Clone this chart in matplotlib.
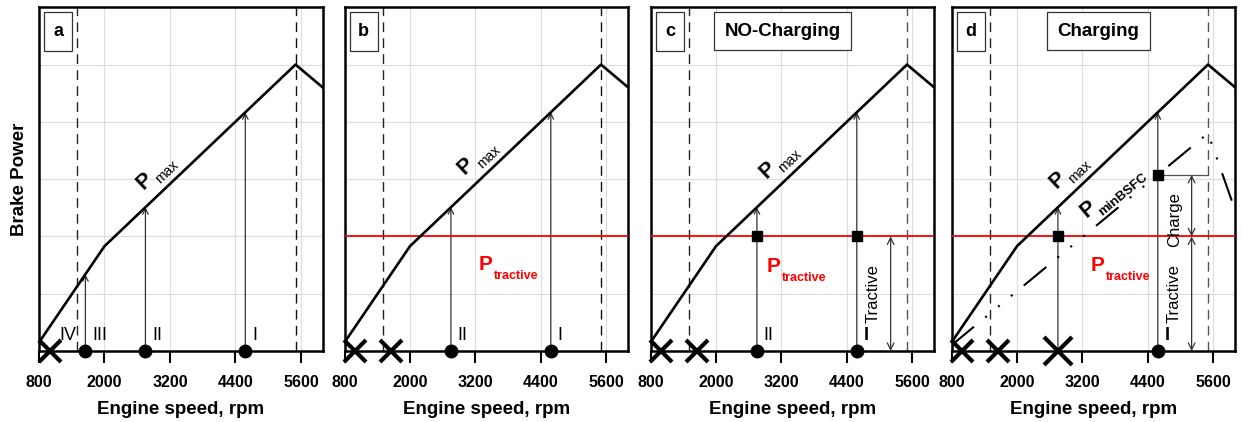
import numpy as np
import matplotlib
matplotlib.use('Agg')
import matplotlib.pyplot as plt
from matplotlib.patches import Rectangle

plt.rcParams['font.family'] = ['Liberation Sans', 'DejaVu Sans']

# ---------------- data ----------------
pmax_rpm = [800, 2000, 5500, 6000]
pmax_power = [0.15, 1.83, 5.0, 4.6]
bsfc_rpm = [800, 5500, 6000]
bsfc_power = [0.1, 3.8, 2.45]
p_tractive = 2.0
speed_limits = [1500, 5500]
gear_names = ['I', 'II', 'III', 'IV']
gear_rpm = [4580, 2750, 1650, 1000]
x_ticks = [800, 2000, 3200, 4400, 5600]
panel_letters = ['a', 'b', 'c', 'd']
panel_titles = [None, None, 'NO-Charging', 'Charging']
# which gears are feasible (circle) / infeasible (cross) per panel
feasible = [['I', 'II', 'III'], ['I', 'II'], ['I', 'II'], ['I']]
infeasible = [['IV'], ['III', 'IV'], ['III', 'IV'], ['II', 'III', 'IV']]
arrow_gears = [['I', 'II', 'III'], ['I', 'II'], ['I', 'II'], ['I', 'II']]
label_gears = [['I', 'II', 'III', 'IV'], ['I', 'II'], ['I', 'II'], ['I']]

# ---------------- layout ----------------
W, H = 1243, 422
fig = plt.figure(figsize=(W / 100, H / 100), dpi=100)
lefts_px = [39, 344.5, 650.5, 951.5]
width_px = 283.8
bottom_px, top_px = 351, 7.3

gear = dict(zip(gear_names, gear_rpm))


def pmax_at(x):
    return float(np.interp(x, pmax_rpm, pmax_power))


def bsfc_at(x):
    return float(np.interp(x, bsfc_rpm, bsfc_power))


def line_angle(ax, xs, ys):
    p = ax.transData.transform(list(zip(xs, ys)))
    return np.degrees(np.arctan2(p[1, 1] - p[0, 1], p[1, 0] - p[0, 0]))


def rot_label(ax, x, y, ang, along, perp, text, **kw):
    r = np.radians(ang)
    dx = np.cos(r) * along - np.sin(r) * perp
    dy = np.sin(r) * along + np.cos(r) * perp
    ax.annotate(text, xy=(x, y), xytext=(dx, dy), textcoords='offset points',
                rotation=ang, rotation_mode='anchor', ha='center', va='center',
                zorder=5, **kw)


pmax_label_x = [2982, 3275, 3196, 2995]
ptr_label_pos = [None, (3249, 1.41), (2934, 1.38), (3347, 1.40)]

for i in range(4):
    ax = fig.add_axes([lefts_px[i] / W, (H - bottom_px) / H, width_px / W,
                       (bottom_px - top_px) / H])
    ax.set_xlim(800, 6000)
    ax.set_ylim(0, 6)
    ax.set_xticks(x_ticks)
    ax.set_xticklabels([str(t) for t in x_ticks], fontsize=11.5, fontweight='bold')
    ax.set_yticks([1, 2, 3, 4, 5])
    ax.tick_params(axis='y', length=0, labelleft=False)
    ax.tick_params(axis='x', direction='out', length=8.5, width=1.5, pad=9)
    ax.grid(True, color='#dcdcdc', lw=0.8)
    ax.set_axisbelow(True)
    for s in ax.spines.values():
        s.set_linewidth(1.8)
    ax.set_xlabel('Engine speed, rpm', fontsize=13.5, fontweight='bold', labelpad=8)
    if i == 0:
        ax.set_ylabel('Brake Power', fontsize=13.5, fontweight='bold', labelpad=8)

    # speed limit dashed lines
    dcol = ['#111111', '#111111', '#555555', '#555555']
    ax.axvline(speed_limits[0], color='#222222', lw=1.0, ls=(0, (7, 4.5)), zorder=2)
    ax.axvline(speed_limits[1], color=dcol[i], lw=1.0, ls=(0, (7, 4.5)), zorder=2)

    # Pmax curve
    ax.plot(pmax_rpm, pmax_power, color='black', lw=1.9, zorder=4)
    ang = line_angle(ax, pmax_rpm[1:3], pmax_power[1:3])
    xl = pmax_label_x[i]
    rot_label(ax, xl, pmax_at(xl), ang, 0, 14, 'P', fontsize=15.5, fontweight='bold')
    rot_label(ax, xl, pmax_at(xl), ang, 16, 7.5, 'max', fontsize=10)

    # arrows from operating point to Pmax
    for g in arrow_gears[i]:
        x = gear[g]
        ax.annotate('', xy=(x, pmax_at(x)), xytext=(x, 0),
                    arrowprops=dict(arrowstyle='->', color='#333333', lw=0.9,
                                    shrinkA=0, shrinkB=0, mutation_scale=10),
                    zorder=3)

    # tractive power
    if i > 0:
        ax.axhline(p_tractive, color='red', lw=1.3, zorder=3)
        px, py = ptr_label_pos[i]
        tP = ax.text(px, py, 'P', color='red', fontsize=15, fontweight='bold',
                     ha='left', va='baseline', zorder=5)
        ax.annotate('tractive', xy=(1, 0), xycoords=tP, xytext=(1.0, -3.6),
                    textcoords='offset points', color='red', fontsize=9,
                    fontweight='bold', ha='left', va='baseline', zorder=5)

    if i >= 2:
        ax.annotate('', xy=(5200, p_tractive), xytext=(5200, 0),
                    arrowprops=dict(arrowstyle='<->', color='#333333', lw=0.9,
                                    shrinkA=0, shrinkB=0, mutation_scale=12))
        ax.text(4880, 1.0, 'Tractive', rotation=90, fontsize=12,
                ha='center', va='center')

    if i == 2:
        for g in ['I', 'II']:
            ax.plot(gear[g], p_tractive, marker='s', ms=7, color='black', zorder=6)

    if i == 3:
        ax.plot(bsfc_rpm, bsfc_power, color='black', lw=1.5,
                ls=(0, (14, 7, 1, 7, 1, 7, 1, 7)), zorder=4)
        charge_level = bsfc_at(gear['I'])
        ax.plot(gear['II'], p_tractive, marker='s', ms=7, color='black', zorder=6)
        ax.plot(gear['I'], charge_level, marker='s', ms=7, color='black', zorder=6)
        ax.plot([gear['I'], speed_limits[1]], [charge_level, charge_level],
                color='#555555', lw=0.9, zorder=3)
        ax.annotate('', xy=(5200, charge_level), xytext=(5200, p_tractive),
                    arrowprops=dict(arrowstyle='<->', color='#333333', lw=0.9,
                                    shrinkA=0, shrinkB=0, mutation_scale=12))
        ax.text(4880, 2.3, 'Charge', rotation=90, fontsize=12,
                ha='center', va='center')
        ang2 = line_angle(ax, bsfc_rpm[0:2], bsfc_power[0:2])
        xb = 3510
        rot_label(ax, xb, bsfc_at(xb), ang2, 0, 12.5, 'P', fontsize=15.5, fontweight='bold')
        rot_label(ax, xb, bsfc_at(xb), ang2, 26, 5.0, 'minBSFC', fontsize=9.5,
                  fontweight='bold')

    # operating point markers
    for g in feasible[i]:
        ax.plot(gear[g], 0, marker='o', ms=9, color='black', clip_on=False, zorder=7)
    for g in infeasible[i]:
        ms = 20 if (i == 3 and g == 'II') else 16
        ax.plot(gear[g], 0, marker='x', ms=ms, mew=3, color='black',
                clip_on=False, zorder=7)

    # gear labels
    for g in label_gears[i]:
        fw = 'bold' if (i >= 2 and g == 'I') else 'normal'
        off = 170 if g == 'IV' else 125
        ax.text(gear[g] + off, 0.274, g, fontsize=13, fontweight=fw,
                ha='left', va='center', zorder=6)

    # panel letter box
    ax.add_patch(Rectangle((0.018, 0.872), 0.1, 0.113, transform=ax.transAxes,
                           facecolor='white', edgecolor='#333333', lw=0.9, zorder=8))
    ax.text(0.068, 0.9285, panel_letters[i], transform=ax.transAxes, fontsize=13,
            fontweight='bold', ha='center', va='center', zorder=9)
    if panel_titles[i]:
        bx0, bx1 = (0.224, 0.708) if i == 2 else (0.338, 0.698)
        ax.add_patch(Rectangle((bx0, 0.876), bx1 - bx0, 0.109, transform=ax.transAxes,
                               facecolor='white', edgecolor='#333333', lw=0.9, zorder=8))
        ax.text((bx0 + bx1) / 2, 0.9305, panel_titles[i], transform=ax.transAxes,
                fontsize=13.5, fontweight='bold', ha='center', va='center', zorder=9)

fig.savefig('out.png', dpi=100)
